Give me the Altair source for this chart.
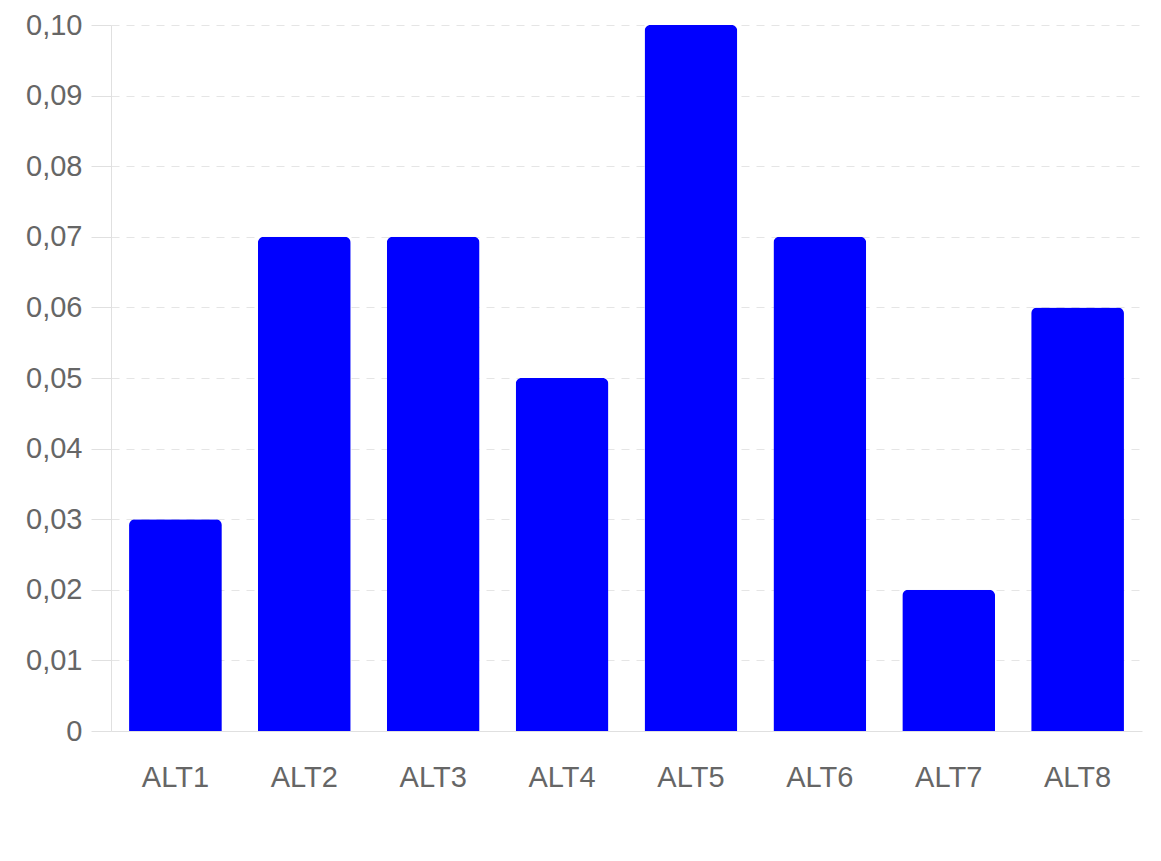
import altair as alt
import pandas as pd

categories = ["ALT1", "ALT2", "ALT3", "ALT4", "ALT5", "ALT6", "ALT7", "ALT8"]
values = [0.03, 0.07, 0.07, 0.05, 0.10, 0.07, 0.02, 0.06]
y_ticks = [0, 0.01, 0.02, 0.03, 0.04, 0.05, 0.06, 0.07, 0.08, 0.09, 0.10]

df = pd.DataFrame({"cat": categories, "val": values})

chart = alt.Chart(df).mark_bar(
    color="#0000FF",
    cornerRadiusTopLeft=6,
    cornerRadiusTopRight=6,
).encode(
    x=alt.X("cat:N", sort=categories, title=None,
            scale=alt.Scale(paddingInner=0.28, paddingOuter=0.14),
            axis=alt.Axis(labelAngle=0, ticks=False, grid=False, domain=True,
                          domainColor="#e0e0e0", labelPadding=32,
                          labelFontSize=29, labelColor="#666666",
                          labelFont="Liberation Sans")),
    y=alt.Y("val:Q", title=None,
            scale=alt.Scale(domain=[0, 0.1], nice=False),
            axis=alt.Axis(values=y_ticks,
                          labelExpr="datum.value == 0 ? '0' : replace(format(datum.value, '.2f'), '.', ',')",
                          tickSize=20, tickColor="#e0e0e0", labelPadding=9,
                          domainColor="#e0e0e0",
                          grid=True, gridColor="#e5e5e5", gridDash=[8, 7],
                          labelFontSize=29, labelColor="#666666",
                          labelFont="Liberation Sans")),
).properties(
    width=1031,
    height=706,
    padding={"left": 103, "top": 17, "right": 10, "bottom": 120},
    autosize=alt.AutoSizeParams(type="none"),
).configure_view(stroke=None)

chart.save("out.html", embed_options={"renderer": "svg", "actions": False})
